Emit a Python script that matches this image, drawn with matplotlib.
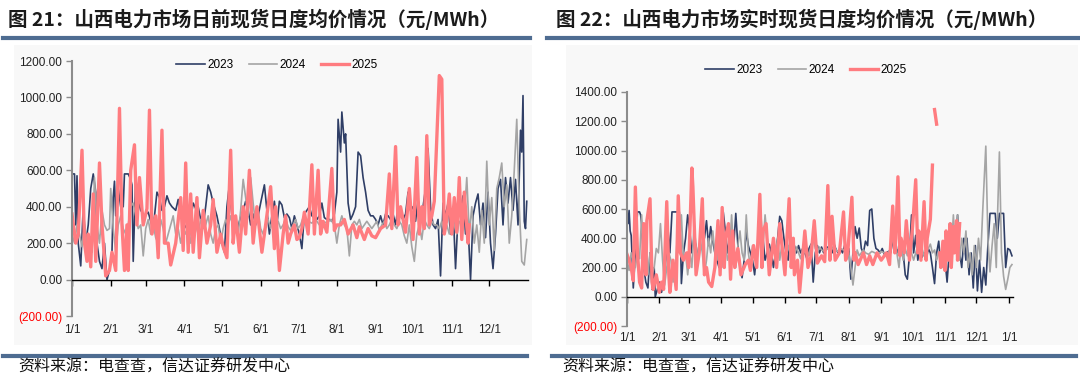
import numpy as np
import matplotlib
matplotlib.use("Agg")
import matplotlib.pyplot as plt
from matplotlib.patches import Rectangle
from matplotlib.lines import Line2D
import matplotlib.transforms as mtransforms

plt.rcParams['font.family'] = ['Liberation Sans', 'Noto Sans CJK SC', 'DejaVu Sans']

# ---- data: (day of year, price) pairs ----
months = ['1/1', '2/1', '3/1', '4/1', '5/1', '6/1', '7/1', '8/1', '9/1', '10/1', '11/1', '12/1']
month_days = [0, 31, 59, 90, 120, 151, 181, 212, 243, 273, 304, 334]

# day-ahead (left chart)
da_2023 = [(0, 580), (2, 580), (3, 300), (4, 570), (5, 200), (7, 75), (9, 400), (11, 200), (13, 300),
           (15, 500), (17, 580), (19, 480), (20, 200), (22, 100), (24, 60), (26, 200), (28, 0), (30, 50),
           (32, 150), (33, 450), (34, 540), (35, 350), (37, 500), (39, 400), (41, 400), (42, 580), (45, 580),
           (47, 550), (48, 520), (49, 100), (51, 560), (53, 430), (55, 380), (58, 350), (61, 370), (63, 320),
           (65, 280), (68, 480), (70, 450), (72, 380), (74, 400), (76, 460), (78, 420), (80, 400), (83, 380),
           (85, 440), (87, 350), (90, 300), (92, 280), (93, 150), (95, 330), (97, 420), (99, 390), (101, 400),
           (103, 330), (105, 300), (107, 400), (109, 520), (111, 480), (113, 420), (116, 350), (118, 280),
           (120, 200), (122, 150), (124, 400), (126, 520), (128, 350), (130, 300), (132, 260), (134, 320),
           (137, 380), (139, 430), (141, 380), (143, 300), (145, 360), (147, 300), (149, 350), (151, 420),
           (154, 520), (156, 380), (158, 250), (160, 350), (162, 430), (164, 300), (166, 430), (168, 410),
           (170, 340), (172, 360), (174, 340), (176, 280), (178, 350), (180, 300), (182, 250), (184, 170),
           (186, 360), (188, 380), (190, 400), (192, 350), (194, 340), (196, 330), (198, 350), (200, 420),
           (202, 340), (204, 330), (206, 330), (208, 320), (210, 360), (212, 480), (213, 880), (215, 700),
           (216, 920), (218, 750), (219, 800), (221, 420), (223, 330), (225, 360), (227, 400), (229, 700),
           (231, 680), (233, 560), (235, 480), (237, 380), (239, 350), (241, 350), (243, 330), (245, 300),
           (247, 350), (249, 300), (251, 360), (253, 350), (255, 330), (257, 360), (259, 300), (261, 400),
           (263, 350), (265, 330), (267, 360), (269, 480), (271, 380), (273, 400), (275, 320), (277, 440),
           (279, 350), (281, 400), (283, 500), (285, 720), (287, 400), (289, 300), (291, 280), (293, 330),
           (295, 20), (297, 420), (299, 350), (301, 420), (303, 250), (305, 400), (307, 60), (309, 350),
           (311, 380), (313, 460), (315, 250), (317, 300), (319, 0), (321, 350), (323, 420), (325, 470),
           (327, 300), (329, 420), (331, 230), (333, 480), (335, 200), (337, 60), (339, 250), (341, 500),
           (343, 550), (345, 300), (347, 560), (349, 420), (351, 560), (353, 380), (355, 550), (357, 300),
           (359, 820), (360, 700), (361, 1010), (362, 320), (363, 280), (364, 430)]

da_2024 = [(0, 250), (2, 200), (4, 300), (6, 250), (8, 180), (10, 300), (12, 200), (14, 220), (16, 150),
           (18, 560), (20, 300), (22, 200), (24, 380), (26, 300), (28, 270), (30, 280), (31, 500), (33, 280),
           (35, 150), (37, 300), (39, 350), (41, 280), (43, 250), (45, 300), (47, 400), (49, 420), (51, 350),
           (53, 280), (55, 300), (57, 130), (59, 280), (61, 330), (63, 250), (65, 300), (67, 230), (69, 200),
           (71, 330), (73, 280), (75, 200), (77, 250), (79, 300), (81, 350), (83, 250), (85, 280), (87, 200),
           (89, 280), (91, 250), (93, 300), (95, 200), (97, 280), (99, 300), (101, 250), (103, 330), (105, 280),
           (107, 300), (109, 350), (111, 250), (113, 200), (115, 280), (117, 300), (119, 200), (121, 280),
           (123, 330), (125, 300), (127, 350), (129, 280), (131, 330), (133, 250), (135, 380), (137, 550),
           (139, 450), (141, 350), (143, 560), (145, 420), (147, 300), (149, 380), (151, 280), (153, 250),
           (155, 300), (157, 330), (159, 280), (161, 350), (163, 300), (165, 320), (167, 280), (169, 300),
           (171, 330), (173, 290), (175, 270), (177, 300), (179, 330), (181, 280), (183, 300), (185, 340),
           (187, 300), (189, 320), (192, 310), (195, 330), (198, 300), (201, 320), (204, 310), (207, 330),
           (210, 300), (212, 200), (214, 300), (216, 350), (218, 300), (220, 280), (222, 130), (224, 300),
           (226, 320), (228, 300), (230, 330), (232, 280), (234, 300), (236, 320), (238, 300), (240, 280),
           (242, 300), (244, 320), (246, 270), (248, 300), (250, 320), (252, 280), (254, 300), (256, 330),
           (258, 300), (260, 280), (262, 320), (264, 300), (266, 240), (268, 200), (270, 300), (272, 180),
           (274, 100), (276, 250), (278, 300), (280, 220), (282, 330), (284, 300), (286, 280), (288, 320),
           (290, 300), (292, 300), (294, 280), (296, 320), (298, 260), (300, 300), (302, 250), (304, 330),
           (306, 300), (308, 250), (310, 320), (312, 300), (314, 350), (316, 560), (318, 250), (320, 400),
           (322, 200), (324, 300), (326, 150), (328, 380), (330, 200), (332, 650), (334, 300), (336, 450),
           (338, 160), (340, 500), (342, 560), (344, 640), (346, 400), (348, 520), (350, 200), (352, 350),
           (354, 600), (356, 880), (358, 400), (360, 100), (362, 80), (364, 220)]

da_2025 = [(0, 360), (3, 200), (5, 250), (8, 710), (10, 200), (12, 100), (13, 250), (15, 70), (17, 470),
           (19, 100), (22, 640), (24, 300), (27, 20), (30, 50), (32, 150), (35, 50), (38, 940), (40, 300),
           (42, 50), (44, 300), (45, 50), (47, 600), (50, 740), (52, 300), (54, 560), (57, 300), (60, 390),
           (62, 930), (64, 250), (67, 350), (69, 120), (72, 820), (74, 200), (77, 200), (79, 80), (83, 200),
           (87, 450), (89, 160), (91, 640), (93, 150), (95, 470), (97, 150), (100, 450), (102, 120), (105, 380),
           (108, 200), (111, 300), (113, 440), (116, 150), (119, 250), (121, 180), (124, 120), (127, 710),
           (129, 200), (131, 350), (134, 150), (137, 400), (139, 250), (142, 600), (145, 200), (148, 400),
           (152, 150), (155, 300), (159, 510), (162, 170), (163, 400), (166, 50), (169, 250), (171, 350),
           (173, 200), (175, 250), (178, 300), (180, 220), (182, 230), (184, 280), (186, 370), (189, 250),
           (192, 630), (194, 250), (197, 600), (199, 250), (201, 320), (204, 260), (208, 610), (210, 270),
           (212, 300), (215, 300), (218, 330), (221, 250), (225, 300), (228, 230), (230, 290), (234, 220),
           (237, 280), (240, 240), (243, 230), (247, 280), (251, 300), (254, 580), (256, 280), (259, 730),
           (261, 300), (263, 400), (267, 260), (270, 500), (273, 220), (276, 670), (278, 250), (280, 400),
           (282, 280), (284, 790), (286, 300), (288, 350), (290, 430), (292, 770), (294, 1120), (296, 1100),
           (298, 250), (300, 330), (302, 470), (304, 250), (306, 450), (308, 260), (310, 560), (312, 220),
           (314, 480), (317, 200), (318, 300)]

# real-time (right chart)
rt_2023 = [(0, 580), (1, 500), (2, 590), (3, 450), (4, 420), (5, 250), (6, 60), (8, 300), (10, 580),
           (12, 580), (13, 560), (14, 500), (15, 350), (16, 200), (18, 100), (20, 60), (22, 300), (24, 50),
           (26, 200), (27, 0), (29, 50), (31, 100), (33, 30), (35, 100), (37, 250), (39, 480), (41, 300),
           (43, 580), (50, 580), (51, 450), (52, 90), (54, 300), (56, 400), (58, 560), (60, 450), (62, 300),
           (64, 400), (66, 350), (68, 250), (70, 400), (72, 480), (74, 400), (76, 520), (78, 350), (80, 480),
           (82, 380), (84, 300), (86, 250), (88, 200), (90, 350), (92, 580), (94, 450), (96, 300), (98, 400),
           (100, 300), (102, 350), (104, 570), (106, 350), (108, 200), (110, 130), (112, 250), (114, 450),
           (116, 350), (118, 300), (120, 250), (122, 150), (124, 300), (126, 420), (128, 350), (130, 400),
           (132, 250), (134, 300), (136, 360), (138, 300), (140, 200), (142, 300), (144, 400), (146, 550),
           (148, 520), (150, 400), (152, 300), (154, 250), (156, 400), (158, 300), (160, 350), (162, 300),
           (164, 350), (166, 300), (168, 330), (170, 300), (172, 260), (174, 330), (176, 360), (178, 100),
           (180, 300), (182, 350), (184, 300), (186, 340), (188, 300), (190, 330), (192, 340), (194, 330),
           (196, 300), (198, 360), (200, 320), (202, 300), (204, 330), (206, 300), (208, 350), (210, 300),
           (212, 330), (214, 120), (216, 300), (218, 480), (220, 400), (222, 470), (224, 330), (226, 300),
           (228, 380), (230, 350), (232, 590), (234, 600), (236, 400), (238, 330), (240, 320), (242, 300),
           (244, 330), (246, 290), (248, 300), (250, 310), (252, 300), (254, 380), (256, 450), (258, 300),
           (260, 330), (262, 400), (264, 300), (266, 150), (268, 120), (270, 280), (272, 560), (274, 300),
           (276, 420), (278, 250), (280, 330), (282, 270), (284, 300), (286, 250), (288, 330), (290, 300),
           (292, 200), (294, 90), (296, 300), (298, 380), (300, 200), (302, 320), (304, 250), (306, 100),
           (308, 300), (310, 250), (312, 450), (314, 300), (316, 560), (318, 300), (320, 200), (322, 400),
           (324, 250), (325, 400), (327, 150), (329, 300), (331, 60), (333, 350), (335, 40), (337, 250),
           (339, 30), (341, 200), (343, 80), (345, 350), (347, 570), (352, 570), (354, 400), (356, 570),
           (360, 570), (362, 200), (364, 330), (366, 320), (368, 280)]

rt_2024 = [(0, 250), (2, 180), (4, 300), (6, 250), (8, 200), (10, 300), (12, 260), (14, 560), (16, 250),
           (18, 400), (20, 150), (22, 300), (24, 150), (26, 200), (28, 330), (30, 300), (32, 500), (34, 250),
           (36, 80), (38, 200), (40, 300), (42, 250), (44, 100), (46, 150), (48, 400), (50, 350), (52, 560),
           (54, 250), (56, 300), (58, 150), (60, 300), (62, 200), (64, 480), (66, 350), (68, 250), (70, 400),
           (72, 300), (74, 150), (76, 250), (78, 400), (80, 300), (82, 450), (84, 300), (86, 250), (88, 350),
           (90, 300), (92, 200), (94, 400), (96, 250), (98, 300), (100, 560), (102, 300), (104, 200),
           (106, 350), (108, 450), (110, 300), (112, 250), (114, 560), (116, 300), (118, 200), (120, 350),
           (122, 300), (124, 250), (126, 350), (128, 560), (130, 350), (132, 560), (134, 400), (136, 300),
           (138, 250), (140, 350), (142, 300), (144, 400), (146, 250), (148, 350), (150, 300), (152, 260),
           (154, 350), (156, 300), (158, 320), (160, 280), (162, 340), (164, 300), (166, 260), (168, 330),
           (170, 300), (172, 320), (174, 280), (176, 350), (178, 400), (180, 330), (182, 300), (184, 340),
           (186, 320), (189, 310), (192, 330), (195, 320), (198, 340), (201, 310), (204, 330), (207, 320),
           (210, 310), (212, 300), (214, 200), (216, 80), (218, 200), (220, 320), (222, 280), (224, 300),
           (226, 320), (228, 300), (231, 290), (234, 310), (237, 300), (240, 290), (243, 310), (246, 300),
           (249, 290), (252, 330), (254, 400), (256, 450), (258, 300), (260, 200), (262, 350), (264, 250),
           (266, 330), (268, 280), (270, 330), (272, 300), (274, 250), (276, 300), (278, 350), (280, 300),
           (282, 330), (284, 280), (286, 300), (288, 330), (290, 360), (292, 300), (294, 320), (296, 250),
           (298, 300), (300, 280), (302, 200), (304, 350), (306, 250), (308, 500), (310, 300), (312, 560),
           (314, 300), (316, 560), (318, 250), (320, 400), (322, 300), (324, 450), (326, 200), (328, 300),
           (330, 150), (332, 350), (334, 200), (336, 400), (338, 250), (340, 580), (343, 1030), (345, 400),
           (347, 170), (349, 350), (351, 500), (353, 200), (354, 500), (356, 990), (358, 300), (360, 140),
           (362, 50), (364, 120), (366, 200), (368, 220)]

rt_2025 = [(0, 290), (2, 250), (4, 200), (6, 110), (8, 750), (10, 300), (12, 100), (14, 60), (16, 500),
           (18, 150), (19, 520), (22, 670), (24, 100), (25, 50), (28, 150), (31, 30), (33, 100), (35, 50),
           (38, 650), (40, 150), (41, 30), (44, 250), (47, 50), (49, 690), (51, 300), (54, 250), (57, 300),
           (59, 200), (62, 880), (63, 750), (65, 350), (66, 150), (69, 300), (72, 670), (74, 150), (76, 200),
           (78, 100), (81, 70), (84, 200), (87, 520), (89, 150), (91, 610), (93, 200), (94, 400), (97, 500),
           (99, 120), (101, 450), (103, 200), (106, 330), (109, 150), (113, 220), (116, 250), (118, 180),
           (121, 350), (124, 200), (127, 700), (129, 200), (130, 450), (133, 500), (136, 150), (140, 400),
           (143, 200), (146, 500), (151, 150), (155, 670), (157, 200), (159, 400), (160, 150), (163, 250),
           (165, 30), (167, 200), (170, 450), (173, 200), (176, 280), (179, 520), (182, 230), (186, 280),
           (189, 240), (192, 760), (194, 250), (196, 550), (199, 250), (203, 300), (207, 580), (209, 250),
           (211, 300), (215, 680), (217, 250), (218, 300), (221, 220), (226, 300), (229, 220), (232, 280),
           (235, 220), (239, 300), (243, 250), (248, 300), (251, 220), (254, 620), (256, 300), (257, 400),
           (259, 820), (261, 280), (262, 400), (265, 300), (267, 520), (270, 250), (273, 480), (276, 800),
           (278, 300), (279, 450), (281, 250), (284, 650), (286, 250), (287, 400), (290, 530), (292, 900),
           (293, np.nan), (294, 1280), (296, 1180), (297, np.nan), (299, 300), (300, 200), (302, 380),
           (304, 180), (305, 450), (307, 250), (309, 500), (310, 200), (312, 480), (313, 300), (315, 520),
           (316, 250), (318, 500)]

c2023 = '#2F3E66'
c2024 = '#A5A5A5'
c2025 = '#FF7C80'

W, H = 1080, 379
fig = plt.figure(figsize=(W / 100, H / 100), dpi=100)
fig.patch.set_facecolor('white')


def px(x, y):
    return x / W, 1 - y / H


# light grey chart panels (behind the axes)
for x0, x1 in [(14, 532), (566, 1078)]:
    fig.patches.append(Rectangle(px(x0, 345), (x1 - x0) / W, 300 / H, transform=fig.transFigure,
                                 facecolor='#f8f8f8', edgecolor='none', zorder=-5))

# header / footer rules
for x0, x1, y in [(3, 530, 38), (547, 1078, 38), (3, 527, 356), (552, 1076, 356)]:
    fig.add_artist(Line2D([x0 / W, x1 / W], [1 - y / H] * 2, transform=fig.transFigure,
                          color='#4E6C91', lw=3))

title_kw = dict(fontsize=14, fontweight='bold', color='#1b1b1b', va='center', ha='left',
                family=['Noto Sans CJK SC'])
fig.text(*px(8, 19), '图 21：山西电力市场日前现货日度均价情况（元/MWh）', **title_kw)
fig.text(*px(556, 19), '图 22：山西电力市场实时现货日度均价情况（元/MWh）', **title_kw)

src_kw = dict(fontsize=11.5, color='#111111', va='center', ha='left', style='italic',
              family=['Noto Sans CJK SC'])
fig.text(*px(18, 367), '资料来源：电查查，信达证券研发中心', **src_kw)
fig.text(*px(562, 367), '资料来源：电查查，信达证券研发中心', **src_kw)


def make_panel(rect, series, ymax, xmax, ticks, labels, label_y, leg_xy):
    ax = fig.add_axes(rect)
    ax.set_zorder(2)
    ax.patch.set_alpha(0)
    for data, col, lw, name in series:
        d = np.array(data, dtype=float)
        ax.plot(d[:, 0], d[:, 1], color=col, lw=lw, label=name, solid_joinstyle='round')
    ax.set_xlim(0, xmax)
    ax.set_ylim(-200, ymax)
    for s in ['top', 'right']:
        ax.spines[s].set_visible(False)
    ax.spines['left'].set_color('#8c8c8c')
    ax.spines['left'].set_linewidth(1.5)
    ax.spines['bottom'].set_position(('data', 0))
    ax.spines['bottom'].set_color('black')
    ax.spines['bottom'].set_linewidth(1.0)
    yt = np.arange(-200, ymax + 1, 200)
    ax.set_yticks(yt)
    ax.set_yticklabels(['(200.00)' if v < 0 else f'{v:.2f}' for v in yt])
    ax.tick_params(axis='y', direction='out', length=4, width=1, color='#8c8c8c', labelsize=8.5,
                   pad=3, labelcolor='#222222')
    ax.get_yticklabels()[0].set_color('#FF0000')
    ax.set_xticks(ticks)
    ax.set_xticklabels([])
    ax.tick_params(axis='x', direction='out', length=4, width=1, color='black')
    tr = mtransforms.blended_transform_factory(ax.transData, ax.transAxes)
    for t, lab in zip(ticks, labels):
        ax.text(t, label_y, lab, transform=tr, ha='center', va='center', fontsize=8.5, color='#222222')
    ax.legend(loc='center', bbox_to_anchor=leg_xy, ncol=3, frameon=False, fontsize=8.5,
              handlelength=2.4, handletextpad=0.2, columnspacing=1.3)
    return ax


make_panel([72 / W, (H - 316) / H, 456 / W, 255 / H],
           [(da_2023, c2023, 1.2, '2023'), (da_2024, c2024, 1.2, '2024'), (da_2025, c2025, 2.4, '2025')],
           1200, 365, month_days, months, -0.055, (0.45, 0.985))

make_panel([627 / W, (H - 326) / H, 386 / W, 234 / H],
           [(rt_2023, c2023, 1.2, '2023'), (rt_2024, c2024, 1.2, '2024'), (rt_2025, c2025, 2.4, '2025')],
           1400, 369, month_days + [365], months + ['1/1'], -0.05, (0.464, 1.094))

fig.savefig('out.png', dpi=100, facecolor=fig.get_facecolor())
